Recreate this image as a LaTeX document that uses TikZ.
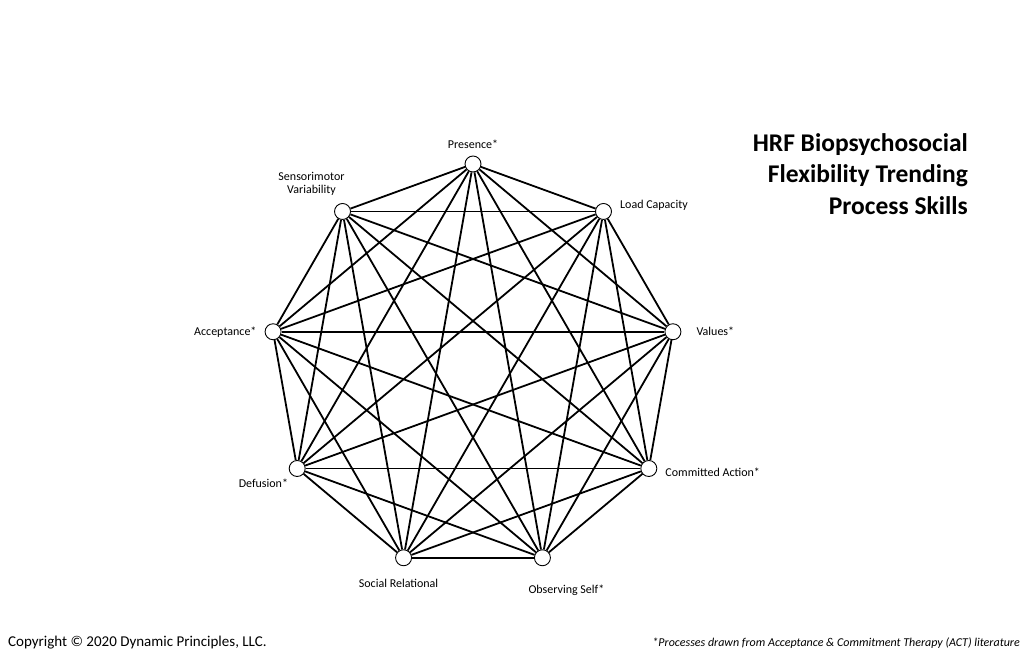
\documentclass[tikz,border=0pt]{standalone}
\usepackage{fontspec}
\setmainfont{Carlito}
\usetikzlibrary{positioning}
\begin{document}
\begin{tikzpicture}[x=1pt,y=1pt,
    vertex/.style={circle,draw,fill=white,minimum size=16pt,inner sep=0pt,line width=0.9pt},
    lbl/.style={font=\fontsize{12}{13}\selectfont,inner sep=0pt,align=center}]
  \useasboundingbox (0,0) rectangle (1030,671);
  \begin{scope}[shift={(473,304)}]
      \draw
        (90:203) node[vertex] (0){}
        (50:203) node[vertex] (1){}
        (10:203) node[vertex] (2){}
        (-30:203) node[vertex] (3){}
        (-70:203) node[vertex] (4){}
        (-110:203) node[vertex] (5){}
        (-150:203) node[vertex] (6){}
        (170:203) node[vertex] (7){}
        (130:203) node[vertex] (8){};
  \end{scope}
      \node[lbl, above=7pt of 0] (l0) {Presence*};
      \node[lbl, right=8pt of 1, yshift=6pt] (l1) {Load Capacity};
      \node[lbl, right=15pt of 2] (l2) {Values*};
      \node[lbl, right=8pt of 3, yshift=-4pt] (l3) {Committed Action*};
      \node[lbl, below=19pt of 4, xshift=24pt] (l4) {Observing Self*};
      \node[lbl, below=13pt of 5, xshift=-5pt] (l5) {Social Relational};
      \node[lbl, below left=4pt and 3pt of 6] (l6) {Defusion*};
      \node[lbl, left=8pt of 7] (l7) {Acceptance*};
      \node[lbl, above=7pt of 8, xshift=-31pt] (l8) {Sensorimotor\\Variability};
      \begin{scope}[-, line width=1.8pt]
        \draw (0) to (1);
        \draw (0) to (2);
        \draw (0) to (3);
        \draw (0) to (4);
        \draw (0) to (5);
        \draw (0) to (6);
        \draw (0) to (7);
        \draw (0) to (8);
        \draw (1) to (2);
        \draw (1) to (3);
        \draw (1) to (4);
        \draw (1) to (5);
        \draw (1) to (6);
        \draw (1) to (7);
        \draw (1) to (8);
        \draw (2) to (3);
        \draw (2) to (4);
        \draw (2) to (5);
        \draw (2) to (6);
        \draw (2) to (7);
        \draw (2) to (8);
        \draw (3) to (4);
        \draw (3) to (5);
        \draw (3) to (6);
        \draw (3) to (7);
        \draw (3) to (8);
        \draw (4) to (5);
        \draw (4) to (6);
        \draw (4) to (7);
        \draw (4) to (8);
        \draw (5) to (6);
        \draw (5) to (7);
        \draw (5) to (8);
        \draw (6) to (7);
        \draw (6) to (8);
        \draw (7) to (8);
      \end{scope}
      \node[anchor=north east, inner sep=0pt, align=right,
            font=\bfseries\fontsize{25.5}{31.5}\selectfont] (title) at (968,538)
        {HRF Biopsychosocial\\Flexibility Trending\\Process Skills};
      \node[anchor=base west, inner sep=0pt, font=\fontsize{15}{17}\selectfont]
        (copy) at (8,24) {Copyright © 2020 Dynamic Principles, LLC.};
      \node[anchor=base east, inner sep=0pt, font=\itshape\fontsize{12}{14}\selectfont]
        (note) at (1020,24) {*Processes drawn from Acceptance \& Commitment Therapy (ACT) literature};
    \end{tikzpicture}
\end{document}
